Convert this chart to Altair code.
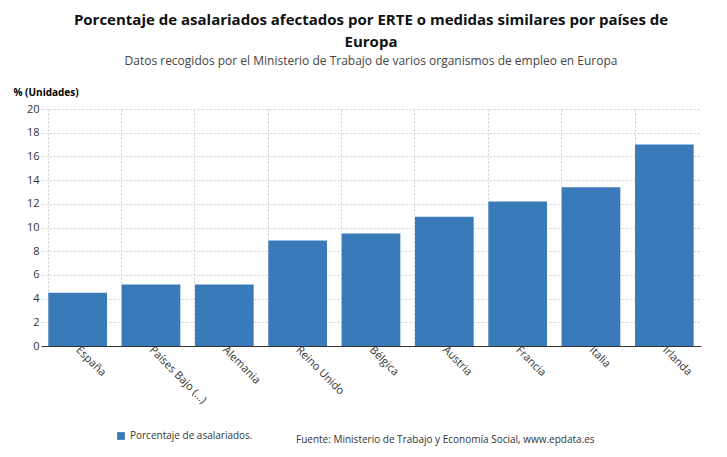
import altair as alt
import pandas as pd

paises = ["España", "Países Bajo (...)", "Alemania", "Reino Unido", "Bélgica",
          "Austria", "Francia", "Italia", "Irlanda"]
valores = [4.5, 5.2, 5.2, 8.9, 9.5, 10.9, 12.2, 13.4, 17.0]
serie = "Porcentaje de asalariados."

df = pd.DataFrame({"pais": paises, "valor": valores, "serie": serie})

BAR = "#3a7ab8"
FONT = "Open Sans"

bars = alt.Chart(df).mark_bar(color=BAR).encode(
    x=alt.X("pais:N", sort=paises, title=None,
            scale=alt.Scale(paddingInner=0.2, paddingOuter=0.1),
            axis=alt.Axis(labelAngle=45, labelAlign="left", labelBaseline="middle",
                          labelPadding=2, grid=True, bandPosition=0, gridDash=[2, 2],
                          gridColor="#cccccc", ticks=False, domainColor="#333",
                          labelFontSize=11, labelColor="#333")),
    y=alt.Y("valor:Q", scale=alt.Scale(domain=[0, 20]),
            axis=alt.Axis(values=list(range(0, 21, 2)), gridDash=[2, 2], gridColor="#cccccc",
                          title="% (Unidades)", titleAngle=0, titleAlign="left",
                          titleX=-28, titleY=-12, titleFontSize=10, titleFontWeight="bold",
                          labelFontSize=11, labelColor="#333", ticks=False, domain=False)),
    color=alt.Color("serie:N", scale=alt.Scale(range=[BAR]),
                    legend=alt.Legend(title=None, orient="none", legendX=75, legendY=322,
                                      symbolType="square", symbolSize=60, labelFontSize=10,
                                      labelColor="#333")),
)

fuente = alt.Chart(pd.DataFrame({"t": ["Fuente: Ministerio de Trabajo y Economía Social, www.epdata.es"]})).mark_text(
    align="left", fontSize=10, color="#333", font=FONT
).encode(x=alt.value(255), y=alt.value(331), text="t:N")

chart = (bars + fuente).properties(
    width=660, height=237,
    title=alt.Title(
        text=["Porcentaje de asalariados afectados por ERTE o medidas similares por países de", "Europa"],
        subtitle="Datos recogidos por el Ministerio de Trabajo de varios organismos de empleo en Europa",
        fontSize=15, fontWeight="bold", color="#111", subtitleFontSize=12, lineHeight=22,
        subtitleColor="#444", anchor="middle", offset=20, subtitlePadding=6,
    ),
).configure(font=FONT).configure_view(stroke=None)

chart.save("out.html", embed_options={"renderer": "svg", "actions": False})
